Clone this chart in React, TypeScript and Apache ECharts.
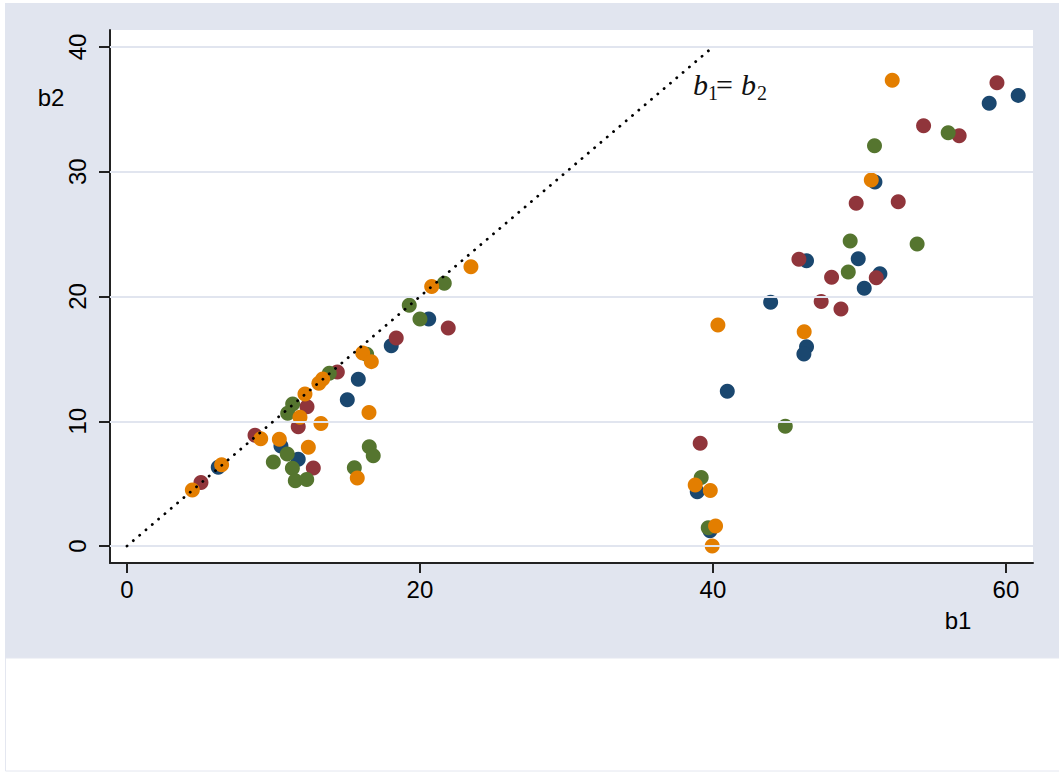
import React, { useEffect, useRef } from "react";
import * as echarts from "echarts";

// [b1, b2] pairs, one array per group (colour)
const navyPts: [number, number][] = [
  [20.6, 18.2], [18.04, 16.06], [15.79, 13.36], [15.04, 11.73], [10.51, 8.02],
  [11.69, 6.95], [6.23, 6.31],
  [60.84, 36.12], [58.86, 35.49], [51.06, 29.18], [46.39, 22.87], [49.92, 23.03],
  [51.4, 21.83], [50.33, 20.66], [43.94, 19.54], [46.39, 15.98], [46.21, 15.39],
  [40.98, 12.4], [38.93, 4.35], [39.8, 1.23],
];
const maroonPts: [number, number][] = [
  [21.93, 17.47], [18.38, 16.67], [14.36, 13.95], [12.29, 11.17], [11.69, 9.57],
  [8.74, 8.87], [12.72, 6.25], [5.05, 5.1],
  [59.39, 37.14], [54.38, 33.69], [56.81, 32.89], [49.78, 27.47], [52.65, 27.6],
  [45.87, 22.98], [48.1, 21.54], [51.15, 21.51], [47.39, 19.59], [48.74, 19.0],
  [39.13, 8.23],
];
const greenPts: [number, number][] = [
  [21.66, 21.06], [19.27, 19.29], [20.0, 18.2], [16.36, 15.37], [13.81, 13.84],
  [11.31, 11.38], [10.97, 10.64], [10.94, 7.37], [9.99, 6.73], [11.29, 6.23],
  [11.49, 5.23], [12.27, 5.34], [16.54, 7.96], [16.81, 7.24], [15.52, 6.28],
  [56.06, 33.13], [51.03, 32.09], [49.37, 24.45], [53.94, 24.21], [49.24, 21.96],
  [44.94, 9.6], [39.2, 5.5], [39.68, 1.47],
];
const orangePts: [number, number][] = [
  [23.48, 22.39], [20.8, 20.8], [16.09, 15.47], [16.68, 14.78], [16.52, 10.71],
  [13.36, 13.39], [13.1, 13.04], [12.15, 12.18], [11.81, 10.32], [13.24, 9.83],
  [9.13, 8.6], [10.4, 8.55], [12.38, 7.91], [15.72, 5.45], [6.46, 6.52], [4.46, 4.49],
  [52.24, 37.33], [50.81, 29.34], [40.34, 17.72], [46.23, 17.18], [38.79, 4.89],
  [39.82, 4.46], [40.18, 1.6], [39.95, 0.0],
];
const diagonal: [number, number][] = [[0, 0], [40, 40]];

const xTicks = [0, 20, 40, 60];
const yTicks = [0, 10, 20, 30, 40];
const xRange = [-1.16, 61.85];
const yRange = [-1.36, 41.36];

const groups = [
  { name: "navy", color: "#1a476f", data: navyPts },
  { name: "maroon", color: "#90353b", data: maroonPts },
  { name: "green", color: "#55752f", data: greenPts },
  { name: "orange", color: "#e37e00", data: orangePts },
];

const FONT = "'Liberation Sans', Arial, Helvetica, sans-serif";
const SERIF = "'Liberation Serif', 'Times New Roman', serif";
const BG = "#e1e5ef";

export default function App() {
  const ref = useRef<HTMLDivElement>(null);
  useEffect(() => {
    if (!ref.current) return;
    const chart = echarts.init(ref.current, null, { renderer: "svg" });
    const option: any = {
      animation: false,
      backgroundColor: "#ffffff",
      grid: {
        left: 110,
        right: 26,
        top: 30,
        bottom: 210,
        show: true,
        backgroundColor: "#ffffff",
        borderWidth: 0,
      },
      xAxis: {
        type: "value",
        min: xRange[0],
        max: xRange[1],
        axisLine: { show: true, onZero: false, lineStyle: { color: "#222", width: 2 } },
        axisTick: { show: true, customValues: xTicks, length: 10, lineStyle: { color: "#222", width: 2 } },
        axisLabel: { customValues: xTicks, fontSize: 24, color: "#000", fontFamily: FONT, margin: 14 },
        splitLine: { show: false },
      },
      yAxis: {
        type: "value",
        min: yRange[0],
        max: yRange[1],
        axisLine: { show: true, onZero: false, lineStyle: { color: "#222", width: 2 } },
        axisTick: { show: true, customValues: yTicks, length: 11, lineStyle: { color: "#222", width: 2 } },
        axisLabel: { customValues: yTicks, rotate: 90, fontSize: 24, color: "#000", fontFamily: FONT, margin: 21 },
        splitLine: { show: false },
      },
      graphic: [
        { type: "rect", z: -100, shape: { x: 5, y: 3, width: 1054, height: 655 }, style: { fill: BG } },
        { type: "rect", z: -100, shape: { x: 5.5, y: 658, width: 1060, height: 113 }, style: { fill: "#fff", stroke: "#e4e7f0", lineWidth: 1 } },
        { type: "text", x: 51, y: 97, style: { text: "b2", fontSize: 24, fontFamily: FONT, fill: "#000", align: "center", verticalAlign: "middle" } },
        { type: "text", x: 958, y: 620, style: { text: "b1", fontSize: 24, fontFamily: FONT, fill: "#000", align: "center", verticalAlign: "middle" } },
        { type: "text", x: 693, y: 84, z: 10, style: { text: "b", fontSize: 30, fontStyle: "italic", fontFamily: SERIF, fill: "#111", align: "left", verticalAlign: "middle" } },
        { type: "text", x: 708, y: 93, z: 10, style: { text: "1", fontSize: 20, fontFamily: SERIF, fill: "#111", align: "left", verticalAlign: "middle" } },
        { type: "text", x: 716, y: 84, z: 10, style: { text: "=", fontSize: 30, fontFamily: SERIF, fill: "#111", align: "left", verticalAlign: "middle" } },
        { type: "text", x: 741, y: 84, z: 10, style: { text: "b", fontSize: 30, fontStyle: "italic", fontFamily: SERIF, fill: "#111", align: "left", verticalAlign: "middle" } },
        { type: "text", x: 757, y: 93, z: 10, style: { text: "2", fontSize: 20, fontFamily: SERIF, fill: "#111", align: "left", verticalAlign: "middle" } },
      ],
      series: [
        {
          type: "line",
          name: "grid",
          data: [],
          z: 0,
          silent: true,
          markLine: {
            silent: true,
            symbol: "none",
            label: { show: false },
            lineStyle: { color: "#e1e5ef", width: 2, type: "solid" },
            data: yTicks.map((v) => ({ yAxis: v })),
          },
        },
        ...groups.map((g) => ({
          type: "scatter",
          name: g.name,
          data: g.data,
          symbol: "circle",
          symbolSize: 15,
          z: 3,
          itemStyle: { color: g.color, opacity: 1 },
        })),
        {
          type: "line",
          name: "b1 = b2",
          data: diagonal,
          symbol: "none",
          z: 5,
          lineStyle: { color: "#000", width: 2.8, type: [0.1, 8.2], cap: "round" },
        },
      ],
    };
    chart.setOption(option);
    return () => chart.dispose();
  }, []);
  return (
    <div
      ref={ref}
      style={{ position: "absolute", left: 0, top: 0, width: 1059, height: 773 }}
    />
  );
}
